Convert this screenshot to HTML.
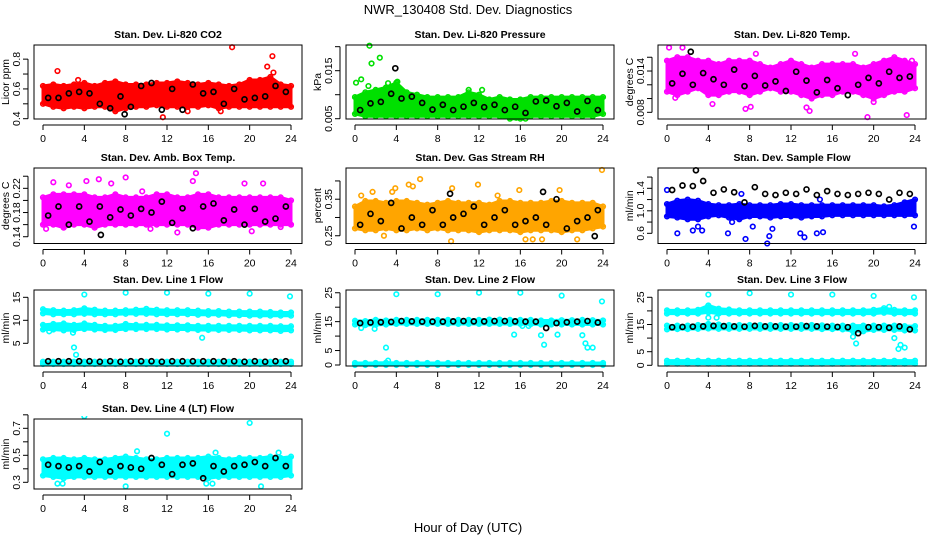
<!DOCTYPE html>
<html><head><meta charset="utf-8">
<style>
html,body{margin:0;padding:0;background:#fff;}
svg{display:block;font-family:"Liberation Sans",Arial,sans-serif;}
</style></head>
<body>
<svg id="chart" width="936" height="540" viewBox="0 0 936 540" xmlns="http://www.w3.org/2000/svg">
<text x="468" y="14" text-anchor="middle" font-size="13">NWR_130408  Std. Dev. Diagnostics</text>
<text x="468" y="532" text-anchor="middle" font-size="13">Hour of Day (UTC)</text>
</svg>
<script>
// ---- shared data ----
const hours25 = [0,1,2,3,4,5,6,7,8,9,10,11,12,13,14,15,16,17,18,19,20,21,22,23,24];
const blackHours = [0.5,1.5,2.5,3.5,4.5,5.5,6.5,7.5,8.5,9.5,10.5,11.5,12.5,13.5,14.5,15.5,16.5,17.5,18.5,19.5,20.5,21.5,22.5,23.5];
const xTicks = [0,4,8,12,16,20,24];

// CO2
const co2Lo = [0.5,0.48,0.47,0.48,0.47,0.48,0.48,0.45,0.47,0.48,0.48,0.49,0.48,0.48,0.48,0.48,0.49,0.47,0.48,0.48,0.48,0.48,0.48,0.48,0.48];
const co2Hi = [0.62,0.63,0.62,0.63,0.64,0.62,0.64,0.65,0.63,0.63,0.63,0.64,0.64,0.65,0.64,0.63,0.64,0.63,0.62,0.63,0.66,0.66,0.68,0.63,0.62];
const co2Out = [[1.4,0.72],[11.6,0.41],[18.3,0.88],[21.7,0.75],[22.2,0.82],[22.3,0.71],[17.2,0.45],[3.4,0.66],[14,0.45]];
const co2Black = [0.54,0.54,0.57,0.58,0.57,0.5,0.47,0.55,0.48,0.62,0.64,0.46,0.6,0.46,0.63,0.57,0.58,0.5,0.6,0.53,0.54,0.55,0.62,0.58];
const co2BlackOut = [[7.9,0.43]];
// Pressure
const presLo = [0.006,0.0055,0.0055,0.0055,0.0055,0.0055,0.0055,0.0055,0.0055,0.0055,0.0055,0.0055,0.0055,0.0055,0.0055,0.005,0.005,0.0055,0.0055,0.0055,0.0055,0.0055,0.0055,0.0055,0.006];
const presHi = [0.0095,0.0105,0.011,0.0115,0.0125,0.0105,0.01,0.0095,0.0095,0.0095,0.0095,0.0105,0.01,0.009,0.0095,0.009,0.009,0.0095,0.0095,0.0095,0.0095,0.0095,0.0095,0.0095,0.0095];
const presOut = [[0.1,0.0125],[0.6,0.0132],[1.4,0.0202],[1.6,0.0165],[2.4,0.0177],[3.2,0.0124],[1.3,0.0118],[4.1,0.0127],[11,0.011],[12.3,0.011],[15.6,0.0052],[16.5,0.005]];
const presBlack = [0.0068,0.0082,0.0085,0.0102,0.0092,0.0096,0.0083,0.0069,0.0079,0.0068,0.0075,0.0083,0.0074,0.0079,0.0068,0.0075,0.0062,0.0086,0.0088,0.0076,0.0083,0.0065,0.0087,0.0068];
const presBlackOut = [[3.9,0.0155]];
// Temp
const tempLo = [0.011,0.0105,0.011,0.0115,0.0105,0.0105,0.011,0.011,0.0105,0.011,0.0115,0.011,0.011,0.0105,0.0100,0.0105,0.0105,0.011,0.011,0.0105,0.010,0.0105,0.011,0.011,0.0115];
const tempHi = [0.0155,0.016,0.016,0.0155,0.0155,0.015,0.0155,0.0155,0.0155,0.015,0.0145,0.015,0.0155,0.015,0.0145,0.015,0.015,0.015,0.015,0.0145,0.015,0.0155,0.016,0.0155,0.015];
const tempOut = [[0.2,0.0174],[1.5,0.0174],[4.4,0.0092],[7.6,0.0085],[8.1,0.0088],[8.6,0.0165],[13.5,0.0087],[13.8,0.0082],[18.2,0.0165],[19.4,0.0073],[23.2,0.0076],[0.8,0.0101],[20,0.0095],[23.7,0.0155]];
const tempBlack = [0.0122,0.0136,0.0120,0.0137,0.0128,0.0120,0.0142,0.0118,0.0133,0.0119,0.0125,0.0111,0.0139,0.0126,0.0109,0.0127,0.0115,0.0105,0.0120,0.0130,0.0122,0.0139,0.0130,0.0132];
const tempBlackOut = [[2.3,0.0168]];
// Amb box temp
const ambLo = [0.16,0.16,0.155,0.16,0.16,0.155,0.16,0.16,0.16,0.16,0.16,0.16,0.16,0.16,0.16,0.155,0.155,0.16,0.16,0.16,0.16,0.16,0.16,0.16,0.16];
const ambHi = [0.205,0.21,0.21,0.21,0.21,0.205,0.205,0.21,0.205,0.205,0.205,0.21,0.21,0.205,0.205,0.21,0.21,0.205,0.205,0.205,0.205,0.205,0.205,0.205,0.2];
const ambOut = [[1,0.23],[4.2,0.232],[5.4,0.235],[6.6,0.228],[8,0.238],[10.4,0.153],[13,0.147],[14.8,0.245],[14.5,0.232],[19.5,0.228],[20.2,0.149],[21.3,0.228],[0.3,0.153],[23,0.156],[2.5,0.225],[9.6,0.215]];
const ambBlack = [0.175,0.19,0.16,0.19,0.165,0.19,0.172,0.185,0.175,0.186,0.18,0.198,0.163,0.187,0.154,0.19,0.195,0.167,0.185,0.16,0.186,0.165,0.17,0.19];
const ambBlackOut = [[5.6,0.143]];
// RH
const rhLo = [0.27,0.265,0.265,0.27,0.265,0.265,0.27,0.265,0.27,0.265,0.265,0.265,0.26,0.265,0.265,0.265,0.26,0.265,0.265,0.265,0.26,0.265,0.265,0.27,0.275];
const rhHi = [0.33,0.345,0.345,0.34,0.345,0.345,0.34,0.335,0.34,0.345,0.34,0.34,0.34,0.335,0.345,0.345,0.34,0.34,0.34,0.345,0.345,0.34,0.34,0.34,0.33];
const rhOut = [[0.6,0.36],[1.7,0.37],[2.8,0.25],[3.6,0.37],[3.9,0.38],[5.2,0.39],[5.6,0.385],[6.3,0.405],[9.3,0.235],[9.4,0.38],[11.9,0.39],[15.9,0.375],[16.5,0.24],[17.2,0.24],[18.1,0.24],[19.8,0.375],[21.5,0.24],[23.9,0.43],[13.8,0.36]];
const rhBlack = [0.28,0.31,0.29,0.34,0.27,0.3,0.28,0.32,0.28,0.3,0.31,0.33,0.28,0.3,0.32,0.28,0.29,0.3,0.28,0.35,0.27,0.29,0.3,0.32];
const rhBlackOut = [[9.2,0.365],[18.2,0.37],[23.2,0.249]];
// Sample flow
const sfLo = [0.9,0.88,0.85,0.85,0.9,0.92,0.88,0.85,0.9,0.9,0.88,0.9,0.9,0.88,0.9,0.9,0.92,0.92,0.92,0.92,0.92,0.92,0.92,0.92,0.92];
const sfHi = [1.12,1.18,1.2,1.18,1.12,1.1,1.1,1.12,1.1,1.1,1.1,1.12,1.12,1.1,1.1,1.1,1.1,1.1,1.1,1.1,1.1,1.08,1.1,1.15,1.2];
const sfOut = [[0,1.37],[1,0.6],[2.5,0.65],[3,0.72],[3.4,0.65],[5.9,0.6],[7.6,0.5],[9.7,0.42],[9.9,0.55],[10.2,0.68],[13.3,0.53],[14.5,0.6],[15.1,0.62],[12.9,0.6],[23.9,0.72],[7.2,1.3],[14.8,1.2],[6.3,0.8],[8.3,0.72]];
const sfBlack = [1.37,1.45,1.44,1.53,1.32,1.38,1.33,1.15,1.42,1.3,1.28,1.32,1.3,1.38,1.28,1.35,1.3,1.28,1.3,1.32,1.3,1.2,1.32,1.3];
const sfBlackOut = [[2.8,1.72]];
// Line 1
const l1aLo = [11.5,11.3,11.3,11.3,11.4,11.3,11.3,11.3,11.4,11.4,11.4,11.3,11.3,11.3,11.3,11.2,11.2,11.2,11.1,11.1,11.0,11.0,11.0,11.0,11.0];
const l1aHi = [12.4,12.2,12.1,12.2,12.6,12.3,12.1,12.1,12.2,12.3,12.5,12.3,12.2,12.2,12.2,12.1,12.0,12.0,11.9,11.9,11.9,11.9,11.8,11.7,11.7];
const l1bLo = [8,8,7.8,7.9,8.1,8,7.9,7.9,8.1,8.1,8.1,8.1,8,8,8,7.9,7.9,7.9,7.9,7.9,7.8,7.8,7.8,7.7,7.8];
const l1bHi = [9,9.2,9.3,9,9.3,9,8.8,8.8,9.2,9,9,9,8.9,8.9,8.9,8.8,8.8,8.8,8.8,8.8,8.8,8.8,8.8,8.7,8.7];
const l1cLo = [0.5,0.5,0.5,0.5,0.5,0.5,0.5,0.5,0.5,0.5,0.5,0.5,0.5,0.5,0.5,0.5,0.5,0.5,0.5,0.5,0.5,0.5,0.5,0.5,0.5];
const l1cHi = [1,1,1,1,1,1,1,1,1,1,1,1,1,1,1,1,1,1,1,1,1,1,1,1,1];
const l1Out = [[4,15.6],[8,16],[12,16],[16,15.8],[20,15.8],[23.9,15.2],[3,4.1],[3.2,2.5],[15.4,6.2],[2.9,7.3],[0.6,7.6]];
const l1Black = [1.1,1.1,1.1,1.1,1.1,1.0,1.1,1.0,1.1,1.1,1.1,1.0,1.1,1.1,1.1,1.1,1.1,1.1,1.1,1.0,1.1,1.0,1.1,1.1];
// Line 2
const l2aLo = [14,13.8,13.9,14,14.2,14.2,14.2,14.2,14.2,14.2,14.2,14.2,14.2,14.2,14.2,14.2,14.2,14.1,14,14,14,14,14,14,14];
const l2aHi = [15.3,15.2,15.6,15.4,15.6,15.6,15.6,15.6,15.6,15.6,15.6,15.6,15.6,15.7,15.7,15.6,15.6,15.6,15.4,15.4,15.5,15.5,15.6,15.5,15.4];
const l2cLo = [0,0,0,0,0,0,0,0,0,0,0,0,0,0,0,0,0,0,0,0,0,0,0,0,0];
const l2cHi = [0.7,0.7,0.7,0.8,0.7,0.7,0.7,0.7,0.7,0.7,0.7,0.7,0.7,0.7,0.7,0.7,0.7,0.7,0.7,0.7,0.7,0.7,0.7,0.7,0.7];
const l2Out = [[4,24.5],[8,24.5],[12,25],[16,25],[20,24],[23.9,22],[3,6],[3.2,1.5],[15.4,10.5],[16.2,13.5],[16.8,13.5],[18,10.3],[18.3,7],[19.6,10.5],[22,10.3],[22.3,7.5],[22.5,6],[23,6],[0.6,12.8],[1.9,12.5]];
const l2Black = [14.5,14.7,14.8,14.9,15.2,15.1,15,15,15,15.1,15.2,15.1,15.1,15.2,15.2,15.1,15,15,12.8,14.5,14.8,15,15.2,14.7];
// Line 3
const l3aLo = [19,19,19,19,19.5,19,19,19,19,19,19,19,19,19,19,19,19,19,19,19,19,19.3,19,19,19];
const l3aHi = [20.2,20.2,20.2,20.4,22,20.8,20.5,20.2,20.2,20.2,20.2,20.2,20.2,20.2,20.2,20.2,20.2,20.2,20.2,20.2,20.4,21,20.4,20.2,20.2];
const l3bLo = [13.2,13.3,13.3,13.4,13.5,13.4,13.4,13.4,13.4,13.4,13.4,13.4,13.4,13.4,13.4,13.3,13.3,13.2,12.5,12.5,13,13,13,12.8,12.8];
const l3bHi = [14.6,14.6,14.6,14.8,15.2,15,14.8,14.8,14.8,14.8,14.8,14.8,14.8,14.8,14.8,14.7,14.6,14.6,14.6,14.6,14.6,14.6,14.6,14.4,14.4];
const l3cLo = [0.6,0.6,0.6,0.6,0.6,0.6,0.6,0.6,0.6,0.6,0.6,0.6,0.6,0.6,0.6,0.6,0.6,0.6,0.6,0.6,0.6,0.6,0.6,0.6,0.6];
const l3cHi = [1.7,1.7,1.7,1.7,1.7,1.7,1.7,1.7,1.7,1.7,1.7,1.7,1.7,1.7,1.7,1.7,1.7,1.7,1.7,1.7,1.7,1.7,1.7,1.7,1.7];
const l3Out = [[4,26],[8,26.5],[12,26],[16,26],[20,25.5],[23.9,25],[4,17.5],[4.8,17.5],[18,10.5],[18.3,8],[22,10],[22.4,6],[22.6,7.5],[23,6.5],[21.5,21.5]];
const l3Black = [14,14.1,14.2,14.3,14.5,14.4,14.3,14.2,14.5,14.3,14.3,14.2,14.2,14.4,14.3,14.2,14.1,14,11.8,14,14,13.8,14.3,13.2];
// Line 4
const l4Lo = [0.35,0.34,0.33,0.34,0.34,0.34,0.34,0.34,0.34,0.34,0.34,0.34,0.34,0.34,0.34,0.34,0.33,0.34,0.34,0.34,0.34,0.34,0.34,0.34,0.35];
const l4Hi = [0.47,0.48,0.48,0.47,0.48,0.47,0.47,0.48,0.49,0.48,0.47,0.47,0.48,0.48,0.48,0.48,0.49,0.48,0.47,0.48,0.48,0.48,0.49,0.48,0.49];
const l4Out = [[4,0.79],[12,0.66],[20,0.74],[8,0.27],[21.1,0.27],[1.4,0.29],[1.9,0.29],[9.1,0.53],[16.7,0.52],[22.8,0.52],[15.8,0.29],[16.4,0.29]];
const l4Black = [0.43,0.42,0.41,0.42,0.38,0.45,0.38,0.42,0.41,0.4,0.48,0.43,0.36,0.43,0.44,0.33,0.42,0.38,0.42,0.43,0.45,0.42,0.48,0.42];

const NS = "http://www.w3.org/2000/svg";
const svg = document.getElementById('chart');
const rowTop = [45,168,290,419], rowBot = [119,243.5,366,489];
const panels = [
 {id:'co2',title:'Stan. Dev. Li-820 CO2',ylab:'Licor ppm',col:0,row:0,ymin:0.398,ymax:0.895,color:'#ff0000',bands:[[co2Lo,co2Hi]],out:co2Out,black:co2Black,bout:co2BlackOut,ticks:[0.4,0.5,0.6,0.7,0.8],labels:['0.4','0.6','0.8']},
 {id:'pressure',title:'Stan. Dev. Li-820 Pressure',ylab:'kPa',col:1,row:0,ymin:0.00494,ymax:0.02035,color:'#00e000',bands:[[presLo,presHi]],out:presOut,black:presBlack,bout:presBlackOut,ticks:[0.005,0.01,0.015,0.02],labels:['0.005','0.015']},
 {id:'temp',title:'Stan. Dev. Li-820 Temp.',ylab:'degrees C',col:2,row:0,ymin:0.00703,ymax:0.01778,color:'#ff00ff',bands:[[tempLo,tempHi]],out:tempOut,black:tempBlack,bout:tempBlackOut,ticks:[0.008,0.010,0.012,0.014,0.016],labels:['0.008','0.014']},
 {id:'amb-temp',title:'Stan. Dev. Amb. Box Temp.',ylab:'degrees C',col:0,row:1,ymin:0.1288,ymax:0.2536,color:'#ff00ff',bands:[[ambLo,ambHi]],out:ambOut,black:ambBlack,bout:ambBlackOut,ticks:[0.14,0.16,0.18,0.20,0.22,0.24],labels:['0.14','0.18','0.22']},
 {id:'rh',title:'Stan. Dev. Gas Stream RH',ylab:'percent',col:1,row:1,ymin:0.2288,ymax:0.4354,color:'#ffa500',bands:[[rhLo,rhHi]],out:rhOut,black:rhBlack,bout:rhBlackOut,ticks:[0.25,0.30,0.35,0.40],labels:['0.25','0.35']},
 {id:'sample-flow',title:'Stan. Dev. Sample Flow',ylab:'ml/min',col:2,row:1,ymin:0.419,ymax:1.761,color:'#0000ff',bands:[[sfLo,sfHi]],out:sfOut,black:sfBlack,bout:sfBlackOut,ticks:[0.6,0.8,1.0,1.2,1.4,1.6],labels:['0.6','1.0','1.4']},
 {id:'line1',title:'Stan. Dev. Line 1 Flow',ylab:'ml/min',col:0,row:2,ymin:0.065,ymax:16.59,color:'#00ffff',bands:[[l1aLo,l1aHi],[l1bLo,l1bHi],[l1cLo,l1cHi]],out:l1Out,black:l1Black,bout:[],ticks:[5,10,15],labels:['5','10','15']},
 {id:'line2',title:'Stan. Dev. Line 2 Flow',ylab:'ml/min',col:1,row:2,ymin:-0.35,ymax:25.95,color:'#00ffff',bands:[[l2aLo,l2aHi],[l2cLo,l2cHi]],out:l2Out,black:l2Black,bout:[],ticks:[0,5,10,15,20,25],labels:['0','5','15','25']},
 {id:'line3',title:'Stan. Dev. Line 3 Flow',ylab:'ml/min',col:2,row:2,ymin:-0.26,ymax:27.68,color:'#00ffff',bands:[[l3aLo,l3aHi],[l3bLo,l3bHi],[l3cLo,l3cHi]],out:l3Out,black:l3Black,bout:[],ticks:[0,5,10,15,20,25],labels:['0','5','15','25']},
 {id:'line4',title:'Stan. Dev. Line 4 (LT) Flow',ylab:'ml/min',col:0,row:3,ymin:0.2504,ymax:0.769,color:'#00ffff',bands:[[l4Lo,l4Hi]],out:l4Out,black:l4Black,bout:[],ticks:[0.3,0.4,0.5,0.6,0.7,0.8],labels:['0.3','0.5','0.7']}
];

function mk(tag, attrs, parent){
  const e = document.createElementNS(NS, tag);
  for (const k in attrs) e.setAttribute(k, attrs[k]);
  (parent||svg).appendChild(e);
  return e;
}

panels.forEach(p => {
  const L = 34 + p.col*312, R = 302 + p.col*312;
  const T = rowTop[p.row], B = rowBot[p.row];
  const xs = h => L + 9 + h*(248/24);
  const ys = v => B - (v - p.ymin)/(p.ymax - p.ymin)*(B - T);

  const g = mk('g', {});
  
  

  const clip = mk('clipPath', {id:'clip-'+p.id}, g);
  mk('rect', {x:L, y:T-3, width:R-L, height:B-T+6}, clip);
  const marks = mk('g', {'clip-path':'url(#clip-'+p.id+')'}, g);
  
  

  p.bands.forEach((bd, bi) => {
    const lo = bd[0], hi = bd[1];
    let pts = hours25.map((h,i)=> xs(h)+','+ys(hi[i]));
    pts = pts.concat(hours25.slice().reverse().map((h,j)=> xs(h)+','+ys(lo[24-j])));
    const poly = mk('polygon', {points: pts.join(' '), fill: p.color, stroke: p.color, 'stroke-width': 3, 'stroke-linejoin':'round'}, marks);
    
    
    hours25.forEach((h,i) => {
      [lo[i], hi[i]].forEach(v => {
        const c = mk('circle', {cx: xs(h), cy: ys(v), r: 2.3, fill:'none', stroke:p.color, 'stroke-width':1.6}, marks);
        
        
      });
    });
  });
  p.out.forEach(o => {
    const c = mk('circle', {cx: xs(o[0]), cy: ys(o[1]), r: 2.3, fill:'none', stroke:p.color, 'stroke-width':1.6}, marks);
    
    
  });
  p.black.forEach((v,i) => {
    const c = mk('circle', {cx: xs(blackHours[i]), cy: ys(v), r: 2.5, fill:'none', stroke:'#000', 'stroke-width':1.7}, marks);
    
    
  });
  p.bout.forEach(o => {
    const c = mk('circle', {cx: xs(o[0]), cy: ys(o[1]), r: 2.5, fill:'none', stroke:'#000', 'stroke-width':1.7}, marks);
    
    
  });

  const box = mk('rect', {x:L, y:T, width:R-L, height:B-T, fill:'none', stroke:'#000', 'stroke-width':1}, g);
  
  

  const t = mk('text', {x:(L+R)/2, y:T-7, 'text-anchor':'middle', 'font-size':10.5, 'font-weight':'bold'}, g);
  t.textContent = p.title;
  
  

  const xa = mk('line', {x1:xs(0), x2:xs(24), y1:B+6, y2:B+6, stroke:'#000'}, g);
  
  
  xTicks.forEach(h => {
    const tk = mk('line', {x1:xs(h), x2:xs(h), y1:B+6, y2:B+11, stroke:'#000'}, g);
    
    
    const lb = mk('text', {x:xs(h), y:B+23, 'text-anchor':'middle', 'font-size':10.5}, g);
    lb.textContent = h;
    
    
  });

  const ya = mk('line', {x1:L-6, x2:L-6, y1:ys(p.ticks[0]), y2:ys(p.ticks[p.ticks.length-1]), stroke:'#000'}, g);
  
  
  p.ticks.forEach(v => {
    const tk = mk('line', {x1:L-11, x2:L-6, y1:ys(v), y2:ys(v), stroke:'#000'}, g);
    
    
  });
  p.labels.forEach(s => {
    const v = parseFloat(s);
    const lb = mk('text', {x:L-14, y:ys(v), 'text-anchor':'middle', 'font-size':10.5, transform:'rotate(-90 '+(L-14)+' '+ys(v)+')'}, g);
    lb.textContent = s;
    
    
  });
  const yl = mk('text', {x:L-25, y:(T+B)/2, 'text-anchor':'middle', 'font-size':10.5, transform:'rotate(-90 '+(L-25)+' '+((T+B)/2)+')'}, g);
  yl.textContent = p.ylab;
  
  
});
</script>
</body></html>
